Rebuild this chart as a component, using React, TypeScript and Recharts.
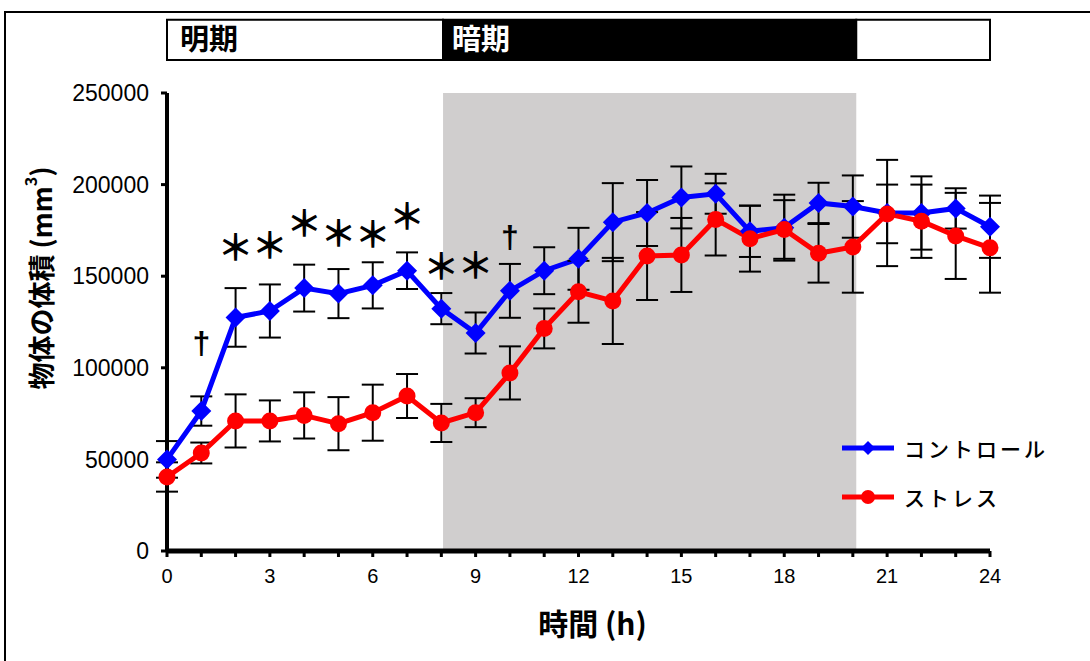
import React from 'react';
import {
  LineChart,
  Line,
  XAxis,
  YAxis,
  ErrorBar,
  ReferenceArea,
  Label,
} from 'recharts';

const hours = [0, 1, 2, 3, 4, 5, 6, 7, 8, 9, 10, 11, 12, 13, 14, 15, 16, 17, 18, 19, 20, 21, 22, 23, 24];
const control = [50000, 76400, 127500, 131000, 143500, 140500, 145000, 153000, 132300, 119000, 142000, 153000, 159500, 179500, 184500, 193000, 195000, 174500, 176500, 190000, 188000, 184500, 184500, 187000, 177000];
const controlErr = [10000, 8000, 16000, 14500, 12800, 13400, 12600, 10000, 8500, 11200, 14700, 12800, 16900, 21300, 18000, 16900, 10900, 14000, 18000, 11000, 17000, 29000, 20000, 11000, 17000];
const stress = [40400, 53500, 71000, 71000, 74000, 69500, 75500, 84600, 69900, 75500, 97200, 121500, 141500, 136500, 161000, 161600, 181000, 170500, 175500, 162500, 166000, 184000, 180000, 172000, 165500];
const stressErr = [8000, 5700, 14500, 11200, 12600, 14500, 15300, 12000, 10400, 7900, 14500, 10900, 16900, 23500, 24000, 20200, 19700, 18000, 16000, 16000, 25000, 16000, 20000, 23500, 24500];

// significance marks above the control line
const marks = ['', '†', '＊', '＊', '＊', '＊', '＊', '＊', '＊', '＊', '†', '', '', '', '', '', '', '', '', '', '', '', '', '', ''];
const markY = [null, 113500, 167000, 168000, 180000, 174500, 174000, 184000, 156700, 157200, 171400, null, null, null, null, null, null, null, null, null, null, null, null, null, null];

// light / dark periods (hours)
const darkStart = 8.05;
const darkEnd = 20.1;

const series = [
  { name: 'コントロール', color: '#0000ff' },
  { name: 'ストレス', color: '#ff0000' },
];

const yTicks = [0, 50000, 100000, 150000, 200000, 250000];
const xTicks = hours;
const xLabelled = [0, 3, 6, 9, 12, 15, 18, 21, 24];

const data = hours.map((h, i) => ({
  h,
  control: control[i],
  controlErr: controlErr[i],
  stress: stress[i],
  stressErr: stressErr[i],
  markY: markY[i],
}));

const latin = '"Liberation Sans", Arial, sans-serif';
const jp = '"Noto Sans CJK JP", "Noto Sans", sans-serif';

const Diamond = (props: any) => {
  const { cx, cy } = props;
  if (cx == null || cy == null) return <g />;
  const r = 10;
  return (
    <polygon
      points={`${cx},${cy - r} ${cx + r},${cy} ${cx},${cy + r} ${cx - r},${cy}`}
      fill={series[0].color}
    />
  );
};

const Dot = (props: any) => {
  const { cx, cy } = props;
  if (cx == null || cy == null) return <g />;
  return <circle cx={cx} cy={cy} r={8.5} fill={series[1].color} />;
};

const Mark = (props: any) => {
  const { cx, cy, index } = props;
  if (cx == null || cy == null || !marks[index]) return <g />;
  const dagger = marks[index] === '†';
  return (
    <text
      x={cx}
      y={cy}
      textAnchor="middle"
      dominantBaseline="central"
      fontFamily={dagger ? latin : jp}
      fontSize={dagger ? 32 : 36}
      fontWeight="bold"
      fill="#000"
    >
      {marks[index]}
    </text>
  );
};

const LegendBox = () => (
  <svg width={240} height={100} style={{ position: 'absolute', left: 840, top: 432 }}>
    {series.map((p, i) => {
      const y = 16 + i * 49;
      return (
        <g key={p.name}>
          <line x1={2} x2={54} y1={y} y2={y} stroke={p.color} strokeWidth={5} />
          {i === 0 ? (
            <polygon points={`28,${y - 7} 35,${y} 28,${y + 7} 21,${y}`} fill={p.color} />
          ) : (
            <circle cx={28} cy={y} r={7} fill={p.color} />
          )}
          <text x={64} y={y} dominantBaseline="central" fontFamily={jp} fontSize={21} fontWeight={500} letterSpacing={3} fill="#000">
            {p.name}
          </text>
        </g>
      );
    })}
  </svg>
);

const YTitle = (props: any) => {
  const { viewBox } = props;
  const cy = viewBox.y + viewBox.height / 2 - 44;
  const cx = 40;
  return (
    <text
      x={cx}
      y={cy}
      transform={`rotate(-90 ${cx} ${cy})`}
      textAnchor="middle"
      dominantBaseline="central"
      fontFamily={jp}
      fontSize={27}
      fontWeight="bold"
      fill="#000"
    >
      物体の体積 (mm<tspan fontSize={16} dy={-10}>3</tspan><tspan dy={10}>)</tspan>
    </text>
  );
};

const XTitle = (props: any) => {
  const { viewBox } = props;
  const cx = viewBox.x + viewBox.width / 2 + 14;
  return (
    <text
      x={cx}
      y={622}
      textAnchor="middle"
      dominantBaseline="central"
      fontFamily={jp}
      fontSize={30}
      fontWeight="bold"
      fill="#000"
    >
      時間 (h)
    </text>
  );
};

export default function App() {
  return (
    <div style={{ position: 'absolute', left: 0, top: 0, width: 1090, height: 661, background: '#fff' }}>
      <div
        style={{
          position: 'absolute',
          left: 4,
          top: 11,
          width: 1090,
          height: 660,
          borderTop: '2px solid #000',
          borderLeft: '2px solid #000',
        }}
      />
      <LineChart
        width={1090}
        height={661}
        data={data}
        margin={{ top: 93, right: 100, bottom: 80, left: 107 }}
        style={{ position: 'absolute', left: 0, top: 0 }}
      >
        <ReferenceArea x1={darkStart} x2={darkEnd} y1={0} y2={250000} fill="#d0cece" fillOpacity={1} stroke="none" />
        <ReferenceArea
          x1={0}
          x2={darkStart}
          y1={268000}
          y2={290000}
          ifOverflow="visible"
          fill="#fff"
          fillOpacity={1}
          stroke="#000"
          strokeWidth={2}
          label={{ value: '明期', position: 'insideLeft', offset: 13, fill: '#000', fontSize: 29, fontWeight: 'bold', fontFamily: jp }}
        />
        <ReferenceArea
          x1={darkStart}
          x2={darkEnd}
          y1={268000}
          y2={290000}
          ifOverflow="visible"
          fill="#000"
          fillOpacity={1}
          stroke="#000"
          strokeWidth={2}
          label={{ value: '暗期', position: 'insideLeft', offset: 9, fill: '#fff', fontSize: 29, fontWeight: 'bold', fontFamily: jp }}
        />
        <ReferenceArea
          x1={darkEnd}
          x2={24}
          y1={268000}
          y2={290000}
          ifOverflow="visible"
          fill="#fff"
          fillOpacity={1}
          stroke="#000"
          strokeWidth={2}
        />
        <XAxis
          dataKey="h"
          type="number"
          domain={[0, 24]}
          ticks={xTicks}
          interval={0}
          height={30}
          axisLine={{ stroke: '#000', strokeWidth: 5 }}
          tickLine={{ stroke: '#000', strokeWidth: 3 }}
          tickSize={6}
          tickMargin={12}
          tickFormatter={(v: number) => (xLabelled.includes(v) ? String(v) : '')}
          tick={{ fill: '#000', fontSize: 20, fontFamily: latin }}
        >
          <Label content={XTitle} />
        </XAxis>
        <YAxis
          type="number"
          domain={[0, 250000]}
          ticks={yTicks}
          width={60}
          axisLine={{ stroke: '#000', strokeWidth: 4 }}
          tickLine={{ stroke: '#000', strokeWidth: 3 }}
          tickSize={6}
          tickMargin={12}
          tick={{ fill: '#000', fontSize: 23, fontFamily: latin }}
        >
          <Label content={YTitle} />
        </YAxis>
        <Line
          dataKey="control"
          name={series[0].name}
          stroke={series[0].color}
          strokeWidth={5}
          dot={Diamond}
          activeDot={false}
          isAnimationActive={false}
        >
          <ErrorBar dataKey="controlErr" width={11} strokeWidth={2} stroke="#000" direction="y" />
        </Line>
        <Line
          dataKey="stress"
          name={series[1].name}
          stroke={series[1].color}
          strokeWidth={5}
          dot={Dot}
          activeDot={false}
          isAnimationActive={false}
        >
          <ErrorBar dataKey="stressErr" width={11} strokeWidth={2} stroke="#000" direction="y" />
        </Line>
        <Line
          dataKey="markY"
          stroke="none"
          dot={Mark}
          activeDot={false}
          legendType="none"
          isAnimationActive={false}
        />
      </LineChart>
      <LegendBox />
    </div>
  );
}
